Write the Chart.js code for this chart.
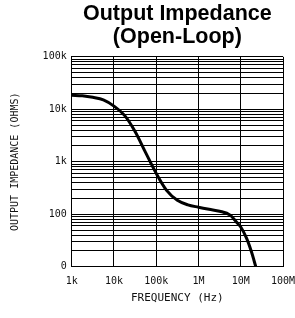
<!DOCTYPE html>
<html>
<head>
<meta charset="utf-8">
<script src="https://cdn.jsdelivr.net/npm/chart.js@4"></script>
<style>
  html, body { margin: 0; padding: 0; background: #fff; }
  #chart { display: block; }
</style>
</head>
<body>
<canvas id="chart" width="295" height="318"></canvas>
<script>
// values (log-log), roughly every quarter decade
const freqHz = [1e3, 1.78e3, 3.16e3, 5.62e3, 1e4, 1.78e4, 3.16e4, 5.62e4, 1e5, 1.78e5, 3.16e5, 5.62e5, 1e6, 1.78e6, 3.16e6, 5.62e6, 7.9e6, 1e7, 1.37e7, 1.8e7, 2.27e7];
const ohms = [18500, 18100, 16900, 15100, 11500, 7650, 3770, 1490, 600, 281, 184, 151, 136, 124, 114, 96, 71, 57, 35, 19, 10];

const xTickValues = [1e3, 1e4, 1e5, 1e6, 1e7, 1e8];
const xTickLabels = ['1k', '10k', '100k', '1M', '10M', '100M'];
const yTickValues = [10, 100, 1000, 10000, 100000];
const yTickLabels = ['0', '100', '1k', '10k', '100k'];

const monoFont = 'DejaVu Sans Mono';

// y grid: every 1..9 step inside each decade
function yGridTicks() {
    const ticks = [];
    for (let i = 0; i < yTickValues.length - 1; i++) {
        for (let k = 1; k < 10; k++) ticks.push({ value: yTickValues[i] * k });
    }
    ticks.push({ value: yTickValues[yTickValues.length - 1] });
    return ticks;
}

const ctx = document.getElementById('chart').getContext('2d');
new Chart(ctx, {
    type: 'line',
    data: {
        datasets: [{
            data: freqHz.map((f, i) => ({ x: f, y: ohms[i] })),
            borderColor: '#000',
            borderWidth: 3,
            pointRadius: 0,
            fill: false,
            cubicInterpolationMode: 'monotone'
        }]
    },
    options: {
        responsive: false,
        animation: false,
        layout: { padding: { top: 0, right: 12, bottom: 0, left: 0 } },
        plugins: {
            legend: { display: false },
            tooltip: { enabled: false },
            title: {
                display: true,
                fullSize: false,
                text: ['Output Impedance', '(Open-Loop)'],
                color: '#000',
                font: { family: 'Liberation Sans', size: 21.5, weight: 'bold', lineHeight: 1.1 },
                padding: { top: 2, bottom: 7.5 }
            }
        },
        scales: {
            x: {
                type: 'logarithmic',
                min: 1e3,
                max: 1e8,
                afterBuildTicks: (scale) => { scale.ticks = xTickValues.map(v => ({ value: v })); },
                afterFit: (scale) => {
                    scale.height = 51.3;
                    scale.paddingLeft = 0;
                    scale.paddingRight = 0;
                },
                grid: { color: '#000', lineWidth: 1, drawTicks: false },
                border: { color: '#000', width: 1 },
                ticks: {
                    autoSkip: false,
                    maxRotation: 0,
                    padding: 9,
                    color: '#111',
                    font: { family: monoFont, size: 10 },
                    callback: (v) => {
                        const i = xTickValues.indexOf(v);
                        return i >= 0 ? xTickLabels[i] : null;
                    }
                },
                title: {
                    display: true,
                    text: 'FREQUENCY (Hz)',
                    color: '#111',
                    font: { family: monoFont, size: 11 },
                    padding: { top: 13, bottom: 13 }
                }
            },
            y: {
                type: 'logarithmic',
                min: 10,
                max: 100000,
                afterBuildTicks: (scale) => { scale.ticks = yGridTicks(); },
                afterFit: (scale) => {
                    scale.width = 71.7;
                    scale.paddingTop = 0;
                    scale.paddingBottom = 0;
                },
                grid: { color: '#000', lineWidth: 1, drawTicks: false },
                border: { color: '#000', width: 1 },
                ticks: {
                    autoSkip: false,
                    padding: 5,
                    color: '#111',
                    font: { family: monoFont, size: 10 },
                    callback: (v) => {
                        const i = yTickValues.indexOf(v);
                        return i >= 0 ? yTickLabels[i] : '';
                    }
                },
                title: {
                    display: true,
                    text: 'OUTPUT IMPEDANCE (OHMS)',
                    color: '#111',
                    font: { family: monoFont, size: 10 },
                    padding: { top: 9, bottom: 9 }
                }
            }
        }
    }
});
</script>
</body>
</html>
